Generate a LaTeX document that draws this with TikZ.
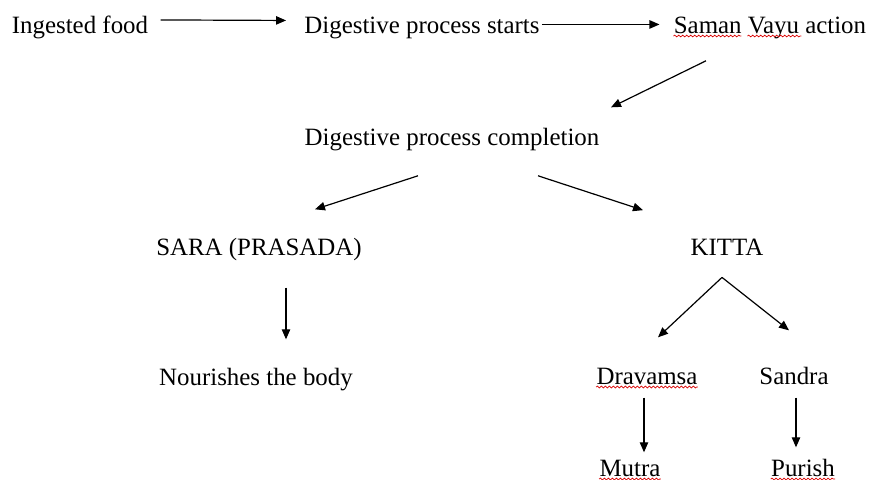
\documentclass[tikz,border=0pt]{standalone}
\usepackage{fontspec}
\setmainfont{Liberation Serif}
\usetikzlibrary{arrows.meta,decorations.pathmorphing}
\begin{document}
\begin{tikzpicture}[x=0.5pt, y=-0.5pt,
    every node/.style={inner sep=0pt, anchor=base, font=\fontsize{12.45}{15}\selectfont},
    flow/.style={-{Triangle[length=5pt, width=4.2pt]}, line width=0.6pt},
    spell/.style={red!85!black, line width=0.35pt, decorate,
        decoration={snake, amplitude=0.45pt, segment length=2pt}}]
    \useasboundingbox (0,0) rectangle (872,479);

        % Draw text nodes
    \node (food) at (80,33) {Ingested food};
    \node (starts) at (422,33) {Digestive process starts};
    \node (saman) at (770,33) {Saman Vayu action};
    \node (complete) at (452,145) {Digestive process completion};
    \node (sara) at (259,255) {SARA (PRASADA)};
    \node (kitta) at (727,255) {KITTA};
    \node (nourish) at (256,385) {Nourishes the body};
    \node (drav) at (647,384) {Dravamsa};
    \node (sandra) at (794,384) {Sandra};
    \node (mutra) at (630,476) {Mutra};
    \node (purish) at (803,476) {Purish};

        % Draw arrows
    \draw[flow] ([shift={(12,-7)}]food.east) -- ([shift={(-18,-7)}]starts.west);
    \draw[flow] ([shift={(2,-3)}]starts.east) -- ([shift={(-14,-3)}]saman.west);
    \draw[flow] ([shift={(-64,22)}]saman.south) -- ([shift={(159,-20)}]complete.north);
    \draw[flow] ([shift={(-34,25)}]complete.south) -- ([shift={(56,-28)}]sara.north);
    \draw[flow] ([shift={(86,25)}]complete.south) -- ([shift={(-84,-28)}]kitta.north);
    \draw[flow] ([shift={(27,27)}]sara.south) -- ([shift={(30,-28)}]nourish.north);
    \draw[flow] ([shift={(-5,22)}]kitta.south) -- ([shift={(11,-30)}]drav.north);
    \draw[flow] ([shift={(-5,22)}]kitta.south) -- ([shift={(-5,-36)}]sandra.north);
    \draw[flow] ([shift={(-3,13)}]drav.south) -- ([shift={(14,-7)}]mutra.north);
    \draw[flow] ([shift={(2,13)}]sandra.south) -- ([shift={(-7,-11)}]purish.north);

        % Add spelling underlines
    \draw[spell] ([shift={(0,3)}]saman.base west) -- ++(68,0);
    \draw[spell] ([shift={(74,3)}]saman.base west) -- ++(54,0);
    \draw[spell] ([shift={(0,3)}]drav.base west) -- (drav.base east |- 0,387);
    \draw[spell] ([shift={(0,3)}]mutra.base west) -- (mutra.base east |- 0,479);
    \draw[spell] ([shift={(0,3)}]purish.base west) -- (purish.base east |- 0,479);
\end{tikzpicture}
\end{document}
